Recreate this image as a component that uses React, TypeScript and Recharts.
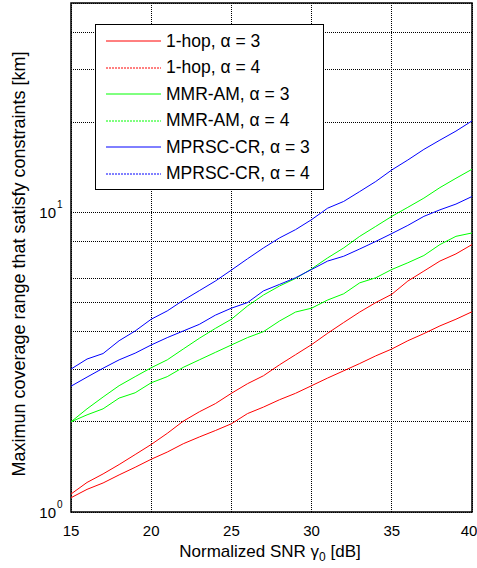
import { LineChart, Line, XAxis, YAxis, CartesianGrid, ReferenceArea, Label } from 'recharts'

const SNR = [15, 16, 17, 18, 19, 20, 21, 22, 23, 24, 25, 26, 27, 28, 29, 30, 31, 32, 33, 34, 35, 36, 37, 38, 39, 40]

const HOP_A3 = [1.148, 1.255, 1.34, 1.44, 1.555, 1.68, 1.83, 2.01, 2.16, 2.3, 2.49, 2.68, 2.85, 3.1, 3.35, 3.62, 3.95, 4.29, 4.65, 5.0, 5.33, 5.9, 6.37, 6.88, 7.27, 7.81]
const HOP_A4 = [1.116, 1.19, 1.25, 1.33, 1.41, 1.5, 1.585, 1.69, 1.78, 1.87, 1.97, 2.13, 2.24, 2.37, 2.49, 2.64, 2.8, 2.96, 3.13, 3.32, 3.5, 3.73, 3.94, 4.18, 4.4, 4.66]
const MMR_A3 = [2.0, 2.21, 2.42, 2.64, 2.83, 3.03, 3.22, 3.5, 3.8, 4.1, 4.4, 4.87, 5.3, 5.68, 6.02, 6.48, 7.05, 7.61, 8.32, 8.98, 9.7, 10.4, 11.16, 12.1, 13.0, 13.93]
const MMR_A4 = [2.0, 2.11, 2.21, 2.4, 2.5, 2.7, 2.83, 3.04, 3.22, 3.41, 3.61, 3.82, 4.0, 4.34, 4.65, 4.79, 5.1, 5.35, 5.82, 6.05, 6.45, 6.79, 7.18, 7.81, 8.32, 8.54]
const MPR_A3 = [3.0, 3.24, 3.38, 3.73, 4.02, 4.4, 4.69, 5.09, 5.48, 5.9, 6.42, 7.0, 7.61, 8.22, 8.76, 9.46, 10.33, 10.88, 11.74, 12.68, 13.86, 14.96, 16.23, 17.43, 18.68, 20.2]
const MPR_A4 = [2.63, 2.82, 3.02, 3.22, 3.39, 3.61, 3.82, 4.02, 4.23, 4.54, 4.79, 5.0, 5.47, 5.75, 6.05, 6.45, 6.88, 7.14, 7.55, 8.0, 8.5, 9.05, 9.7, 10.2, 10.66, 11.3]

const X_TICKS = [15, 20, 25, 30, 35, 40]
const Y_TICKS = [1, 2, 3, 4, 5, 6, 7, 8, 9, 10, 20, 30, 40]

const SERIES = [
  { key: 'hop3', name: '1-hop, \u03b1 = 3', color: '#ff0000', dotted: false },
  { key: 'hop4', name: '1-hop, \u03b1 = 4', color: '#ff0000', dotted: true },
  { key: 'mmr3', name: 'MMR-AM, \u03b1 = 3', color: '#00ff00', dotted: false },
  { key: 'mmr4', name: 'MMR-AM, \u03b1 = 4', color: '#00ff00', dotted: true },
  { key: 'mpr3', name: 'MPRSC-CR, \u03b1 = 3', color: '#0000ff', dotted: false },
  { key: 'mpr4', name: 'MPRSC-CR, \u03b1 = 4', color: '#0000ff', dotted: true },
]

const FONT = '"Liberation Sans", Arial, Helvetica, sans-serif'

const rows = SNR.map((snr, i) => ({
  snr,
  hop3: HOP_A3[i],
  hop4: HOP_A4[i],
  mmr3: MMR_A3[i],
  mmr4: MMR_A4[i],
  mpr3: MPR_A3[i],
  mpr4: MPR_A4[i],
}))

function XTick({ x, y, payload }: any) {
  return (
    <text x={x} y={y + 16} textAnchor="middle" fontSize={15} fill="#000" fontFamily={FONT}>
      {payload.value}
    </text>
  )
}

// only the decades get a label, the rest are just grid lines
function YTick({ x, y, payload }: any) {
  const v = payload.value
  if (v !== 1 && v !== 10) return <g />
  return (
    <g>
      <text x={x - 7} y={y + 6} textAnchor="end" fontSize={15} fill="#000" fontFamily={FONT}>
        10
      </text>
      <text x={x - 6} y={y - 4} fontSize={10} fill="#000" fontFamily={FONT}>
        {v === 1 ? '0' : '1'}
      </text>
    </g>
  )
}

function ChartLegend() {
  return (
    <div
      style={{
        position: 'absolute',
        left: 95,
        top: 24,
        width: 229,
        height: 166,
        background: '#fff',
        border: '1.5px solid #000',
        boxSizing: 'border-box',
        fontFamily: FONT,
        fontSize: 17.5,
        paddingTop: 3,
      }}
    >
      {SERIES.map(s => (
        <div key={s.key} style={{ display: 'flex', alignItems: 'center', height: 26.5, whiteSpace: 'nowrap' }}>
          <svg width={70} height={10} style={{ flex: 'none' }}>
            <line x1={10} x2={65} y1={5} y2={5} stroke={s.color} strokeWidth={1} strokeDasharray={s.dotted ? '2 1' : undefined} />
          </svg>
          <span>{s.name}</span>
        </div>
      ))}
    </div>
  )
}

export default function App() {
  return (
    <div style={{ position: 'relative', width: 477, height: 568, background: '#fff' }}>
      <style>{'body{margin:0}'}</style>
      <LineChart width={477} height={568} data={rows} margin={{ top: 3, right: 5, bottom: 0, left: 11 }}>
        <CartesianGrid stroke="#000" strokeDasharray="1 1" strokeWidth={1} shapeRendering="crispEdges" />
        <XAxis
          dataKey="snr"
          type="number"
          domain={[15, 40]}
          ticks={X_TICKS}
          height={56}
          tick={<XTick />}
          tickLine={false}
          axisLine={false}
        >
          <Label
            content={() => (
              <text x={270} y={557} textAnchor="middle" fontSize={17} fill="#000" fontFamily={FONT}>
                Normalized SNR {'\u03b3'}
                <tspan dy={4} fontSize={12}>0</tspan>
                <tspan dy={-4}> [dB]</tspan>
              </text>
            )}
          />
        </XAxis>
        <YAxis
          scale="log"
          domain={[1, 50]}
          ticks={Y_TICKS}
          allowDataOverflow
          width={60}
          tick={<YTick />}
          tickLine={false}
          axisLine={false}
        >
          <Label
            content={() => (
              <text
                x={19}
                y={264}
                transform="rotate(-90 19 264)"
                textAnchor="middle"
                dominantBaseline="central"
                fontSize={18}
                fill="#000"
                fontFamily={FONT}
              >
                Maximun coverage range that satisfy constraints [km]
              </text>
            )}
          />
        </YAxis>
        <ReferenceArea x1={15} x2={40} y1={1} y2={50} fill="none" stroke="#000" strokeWidth={1.5} />
        {SERIES.map(s => (
          <Line
            key={s.key}
            dataKey={s.key}
            name={s.name}
            stroke={s.color}
            strokeWidth={1}
            dot={false}
            activeDot={false}
            isAnimationActive={false}
          />
        ))}
      </LineChart>
      <ChartLegend />
    </div>
  )
}
